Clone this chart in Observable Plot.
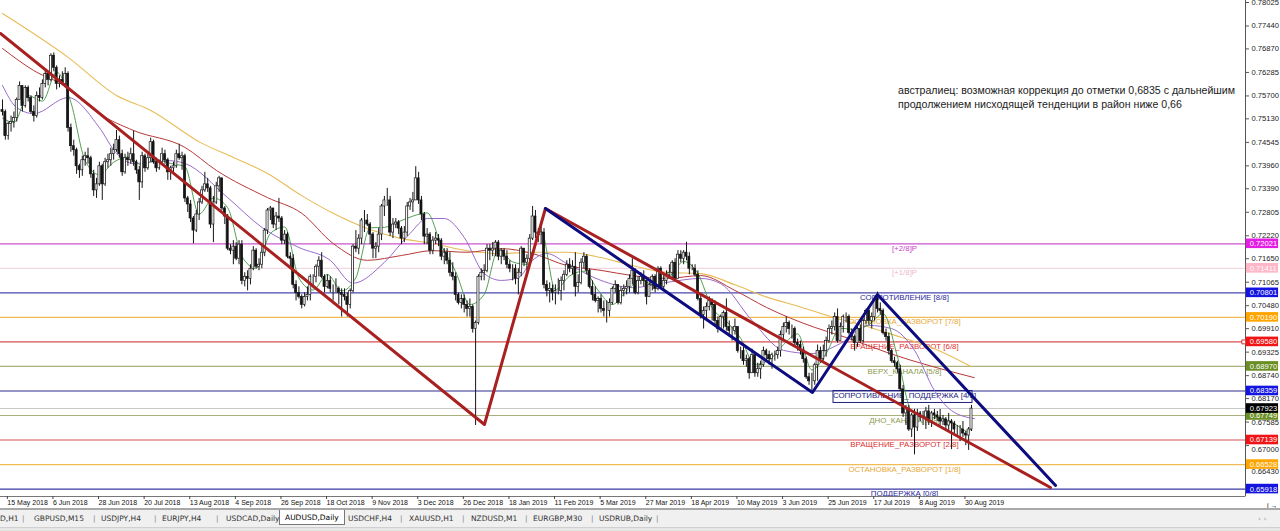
<!DOCTYPE html>
<html><head><meta charset="utf-8">
<script src="https://cdn.jsdelivr.net/npm/d3@7"></script>
<script src="https://cdn.jsdelivr.net/npm/@observablehq/plot@0.6"></script>
<style>
html,body{margin:0;padding:0;background:#fff;width:1280px;height:531px;overflow:hidden}
#wrap{position:relative;width:1280px;height:510px}
#note{position:absolute;left:898px;top:83px;font:10.6px "Liberation Sans",Arial,sans-serif;line-height:14px;color:#222;white-space:nowrap}
#sep{position:absolute;left:0;top:508px;width:1280px;height:2px;background:#a8a8a8}
#tabs{position:absolute;left:0;top:510px;width:1280px;height:17px;background:#f0f0f0;font:7.5px "DejaVu Sans",sans-serif;color:#333}
#tabs span{position:absolute;top:4px;white-space:nowrap}
#tabs .act{top:0;height:15px;padding:3px 5px 0 5px;box-sizing:border-box;background:#fff;border-left:1px solid #777;border-right:1px solid #777;border-bottom:1px solid #777;color:#000}
#foot{position:absolute;left:0;top:527px;width:1280px;height:4px;background:#e6e6e6;border-top:1px solid #d0d0d0}
</style></head><body>
<div id="wrap"><div id="chart"></div>
<div id="note">австралиец: возможная коррекция до отметки 0,6835 с дальнейшим<br>продолжением нисходящей тенденции в район ниже 0,66</div>
<div id="sep"></div>
<div id="tabs"></div>
</div>
<div id="foot"></div>
<script>
// ---------- DATA ----------
const tickIdx = [1,17,33,49,65,81,97,113,129,145,161,177,193,209,225,241,257,273,289,305,321,337];
const tickLabels = ["15 May 2018","6 Jun 2018","28 Jun 2018","20 Jul 2018","13 Aug 2018","4 Sep 2018","26 Sep 2018","18 Oct 2018","9 Nov 2018","3 Dec 2018","26 Dec 2018","18 Jan 2019","11 Feb 2019","5 Mar 2019","27 Mar 2019","18 Apr 2019","10 May 2019","3 Jun 2019","25 Jun 2019","17 Jul 2019","8 Aug 2019","30 Aug 2019"];
const yTicks = [0.78025,0.77440,0.76870,0.76285,0.75700,0.75130,0.74545,0.73960,0.73390,0.72805,0.72220,0.71650,0.71065,0.70480,0.69910,0.69325,0.68740,0.68170,0.67585,0.67000,0.66430];
const yTicksUnderBox = [0.67000,0.66430];

const firstOpen = 7535;
const closes = [
7530,7470,7500,7505,7515, 7560,7595,7545,7590,7565, 7530,7520,7570,7565,7600, 7625,7610,7670,7640,7600,
7610,7600,7625,7490,7445, 7435,7395,7385,7410,7420, 7415,7375,7335,7350,7395, 7350,7405,7410,7425,7435,
7460,7425,7380,7415,7410, 7425,7405,7385,7355,7420, 7390,7415,7455,7405,7390, 7405,7425,7410,7380,7390,
7395,7425,7415,7420,7315, 7300,7265,7235,7275,7305, 7335,7350,7340,7250,7305, 7345,7365,7290,7270,7190,
7185,7195,7165,7200,7110, 7120,7115,7140,7185,7145, 7150,7180,7235,7285,7290, 7250,7270,7265,7210,7225,
7170,7165,7100,7080,7070, 7050,7070,7075,7120,7120, 7145,7160,7120,7095,7110, 7090,7090,7090,7080,7075,
7070,7050,7085,7195,7190, 7215,7260,7260,7250,7225, 7190,7195,7225,7295,7310, 7310,7230,7250,7255,7240,
7215,7230,7295,7305,7310, 7365,7310,7275,7220,7225, 7185,7210,7215,7210,7170, 7180,7160,7130,7120,7075,
7055,7065,7050,7040,7045, 6990,7005,7120,7130,7135, 7190,7185,7190,7205,7170, 7185,7170,7150,7140,7140,
7115,7130,7190,7155,7165, 7215,7270,7230,7225,7230, 7100,7085,7090,7080,7085, 7085,7110,7125,7150,7140,
7145,7095,7105,7155,7170, 7135,7095,7075,7060,7065, 7040,7035,7035,7055,7090, 7100,7055,7085,7090,7095,
7115,7135,7080,7110,7120, 7110,7070,7100,7120,7090, 7140,7095,7110,7125,7130, 7155,7115,7175,7165,7180,
7170,7140,7140,7125,7065, 7025,7035,7045,7060,7050, 7010,6990,7020,7030,6995, 6985,6985,6995,6935,6935,
6910,6915,6880,6925,6880, 6890,6900,6935,6925,6915, 6925,6925,6935,6975,6995, 7005,6990,6990,6955,6950,
6935,6915,6870,6860,6860, 6900,6935,6915,6935,6960, 6990,6995,7020,6960,6995, 7020,7020,6980,6970,6955,
6990,6960,7010,7035,7010, 7020,7065,7040,7035,6980, 6970,6935,6910,6905,6890, 6840,6780,6790,6740,6775,
6745,6780,6770,6770,6785, 6760,6780,6775,6770,6760, 6765,6750,6760,6755,6740, 6740,6740,6730,6725,6740,
6792];
const highs = [
7560,7535,7505,7520,7530, 7565,7605,7595,7595,7595, 7570,7545,7580,7590,7610, 7635,7630,7675,7677,7645,
7620,7630,7640,7630,7500, 7460,7440,7400,7420,7430, 7440,7420,7385,7365,7405, 7400,7415,7425,7440,7450,
7484,7470,7435,7425,7430, 7440,7483,7410,7395,7430, 7425,7425,7465,7460,7415, 7410,7440,7435,7415,7395,
7405,7435,7450,7430,7425, 7320,7310,7270,7285,7315, 7345,7380,7365,7345,7320, 7355,7370,7365,7295,7275,
7200,7210,7205,7210,7210, 7130,7135,7150,7195,7190, 7165,7195,7240,7290,7295, 7280,7280,7315,7270,7235,
7230,7180,7175,7110,7095, 7075,7080,7095,7125,7125, 7150,7170,7180,7125,7125, 7120,7100,7115,7095,7090,
7090,7080,7090,7200,7235, 7225,7265,7285,7275,7255, 7230,7205,7240,7300,7320, 7340,7320,7265,7265,7260,
7245,7245,7305,7315,7330, 7394,7380,7320,7280,7240, 7230,7220,7230,7225,7215, 7190,7190,7180,7155,7130,
7080,7075,7075,7060,7065, 7050,7010,7125,7140,7150, 7200,7200,7205,7210,7210, 7190,7190,7185,7160,7150,
7150,7140,7195,7190,7175, 7225,7295,7285,7240,7245, 7240,7110,7105,7100,7100, 7115,7120,7135,7160,7165,
7160,7180,7125,7165,7180, 7175,7140,7110,7095,7070, 7075,7060,7060,7065,7095, 7110,7100,7095,7100,7110,
7125,7165,7140,7120,7130, 7135,7110,7105,7125,7125, 7145,7145,7125,7135,7150, 7160,7165,7185,7185,7185,
7206,7180,7150,7150,7135, 7075,7045,7055,7070,7065, 7060,7020,7025,7035,7065, 7010,6995,7015,6995,6945,
6945,6925,6920,6940,6925, 6905,6910,6945,6940,6935, 6930,6935,6945,6985,7005, 7020,7010,7000,6995,6965,
6960,6945,6920,6880,6880, 6905,6950,6945,6950,6970, 7000,7010,7030,7040,7005, 7025,7030,7025,6990,6975,
7000,7000,7015,7040,7045, 7030,7070,7082,7055,7040, 6990,6980,6940,6920,6910, 6900,6850,6800,6800,6780,
6790,6790,6785,6785,6795, 6800,6785,6790,6785,6790, 6775,6770,6780,6765,6760, 6750,6750,6760,6735,6745,
6800];
const lows = [
7520,7460,7460,7480,7490, 7505,7560,7530,7540,7555, 7525,7505,7515,7555,7560, 7590,7595,7605,7630,7585,
7590,7595,7590,7480,7430, 7420,7375,7365,7370,7395, 7400,7365,7320,7315,7345, 7310,7345,7390,7395,7410,
7430,7415,7370,7375,7395, 7400,7395,7375,7310,7340, 7380,7385,7405,7400,7380, 7385,7400,7400,7360,7360,
7375,7390,7410,7385,7305, 7280,7255,7202,7230,7260, 7300,7330,7330,7240,7205, 7300,7330,7285,7250,7185,
7175,7150,7160,7150,7100, 7095,7085,7100,7135,7140, 7135,7140,7170,7225,7260, 7240,7235,7255,7200,7200,
7165,7140,7090,7060,7065, 7040,7045,7060,7060,7090, 7105,7120,7115,7080,7090, 7080,7060,7080,7050,7020,
7060,7020,7040,7080,7180, 7175,7200,7230,7245,7200, 7165,7165,7180,7210,7270, 7295,7220,7215,7240,7225,
7200,7205,7220,7285,7280, 7335,7300,7260,7200,7200, 7175,7175,7200,7195,7160, 7150,7150,7120,7110,7060,
7050,7040,7030,7020,7020, 6980,6750,7000,7110,7110, 7130,7160,7170,7170,7160, 7150,7160,7140,7130,7110,
7100,7075,7120,7145,7135, 7150,7210,7215,7205,7200, 7090,7070,7055,7060,7050, 7075,7060,7085,7120,7130,
7125,7070,7080,7100,7140, 7125,7090,7060,7055,7030, 7030,7020,7005,7020,7050, 7080,7050,7050,7070,7075,
7080,7100,7075,7075,7100, 7095,7050,7070,7085,7080, 7085,7090,7085,7100,7115, 7115,7110,7115,7155,7150,
7160,7125,7135,7120,7060, 7015,6990,7010,7035,7010, 7000,6980,6985,6990,6985, 6970,6960,6975,6930,6915,
6900,6895,6865,6890,6870, 6870,6865,6895,6910,6900, 6890,6910,6915,6920,6960, 6980,6975,6965,6945,6935,
6925,6905,6865,6850,6832, 6850,6860,6905,6910,6920, 6955,6975,6985,6955,6960, 6980,7005,6975,6960,6935,
6945,6955,6955,7000,7000, 6990,7010,7030,7025,6975, 6960,6925,6905,6895,6880, 6835,6770,6750,6735,6720,
6677,6735,6760,6750,6740, 6750,6745,6765,6760,6750, 6750,6740,6735,6690,6730, 6725,6710,6720,6700,6688,
6735];

// moving averages (at sample bars)
const maSlowIdx = [0,23,40,52,70,81,93,105,116,128,140,151,163,175,186,198,210,221,233,245,257,268,280,292,304,315,326,340];
const maSlow    = [7775,7666,7571,7534,7452,7417,7377,7322,7278,7240,7215,7203,7185,7178,7181,7181,7168,7148,7131,7128,7100,7070,7045,7018,6995,6970,6944,6896];
const maMidIdx  = [0,11,23,34,46,64,75,93,105,116,128,140,151,163,175,186,198,210,221,233,245,257,268,285,296,311,341];
const maMid     = [7688,7633,7591,7526,7484,7442,7385,7317,7278,7203,7161,7173,7185,7181,7190,7178,7148,7136,7123,7116,7123,7086,7044,6994,6969,6930,6869];
const maFastIdx = [0,5,11,23,34,40,46,58,64,79,91,104,115,123,134,143,149,155,162,169,175,181,186,191,198,210,221,233,245,252,263,274,284,294,304,312,320,327,333,341];
const maFast    = [7596,7541,7526,7566,7491,7427,7402,7409,7402,7317,7243,7193,7161,7104,7156,7228,7265,7265,7218,7128,7111,7118,7161,7178,7153,7111,7093,7106,7116,7103,7011,6937,6929,6954,6999,6991,6937,6837,6787,6767];
const maShortIdx = [0,4,9,14,19,24,29,34,39,44,49,54,59,64,69,74,79,84,89,94,99,104,109,114,119,124,129,134,139,144,149,154,159,164,169,174,179,184,189,194,199,204,209,214,219,224,229,234,239,244,249,254,259,264,269,274,279,284,289,294,299,304,309,314,319,324,329,334,339,340];
const maShort    = [7515,7504,7571,7557,7629,7554,7409,7374,7405,7418,7398,7411,7402,7394,7276,7316,7292,7171,7141,7228,7244,7117,7087,7126,7085,7118,7242,7243,7257,7271,7279,7198,7133,7051,7076,7188,7157,7151,7234,7088,7122,7134,7086,7051,7085,7112,7098,7120,7158,7128,7043,7009,6967,6902,6913,6951,6978,6888,6929,6992,6989,7001,7028,6922,6785,6770,6769,6754,6735,6745];

// drawn trend zigzags (vertices: bar index, price)
const zigRedIdx   = [-0.7,169.1,190.5,367.7];
const zigRedPrice = [0.77254,0.67525,0.72899,0.65957];
const zigBlueIdx   = [190.5,284.2,307.0,369.5];
const zigBluePrice = [0.72899,0.68321,0.70759,0.66007];

// Murrey levels
const levelPrices = [0.72021,0.71411,0.70801,0.70190,0.69580,0.68970,0.68359,0.67749,0.67139,0.66528,0.65918];
const levelNames = ["[+2/8]P","[+1/8]P","СОПРОТИВЛЕНИЕ [8/8]","ОСТАНОВКА_РАЗВОРОТ [7/8]","ВРАЩЕНИЕ_РАЗВОРОТ [6/8]","ВЕРХ_КАНАЛА [5/8]","СОПРОТИВЛЕНИЕ_ПОДДЕРЖКА [4/8]","ДНО_КАНАЛА [3/8]","ВРАЩЕНИЕ_РАЗВОРОТ [2/8]","ОСТАНОВКА_РАЗВОРОТ [1/8]","ПОДДЕРЖКА [0/8]"];
const currentPrice = 0.67923;

const tabNames = ["D,H1","GBPUSD,M15","USDJPY,H4","EURJPY,H4","USDCAD,Daily","AUDUSD,Daily","USDCHF,H4","XAUUSD,H1","NZDUSD,M1","EURGBP,M30","USDRUB,Daily"];

// ---------- STYLES ----------
const lineColors = ["#cc55cc","#f2d8e0","#4848b0","#f2bc55","#d85050","#a9b07c","#2c2c90","#a9b07c","#d85050","#f2bc55","#3a3aa4"];
const textColors = ["#cc44cc","#f0b8c8","#2a2a9a","#e8a838","#e03030","#8c9a50","#202080","#8c9a50","#d83030","#e8a838","#2a2a9a"];
const boxColors  = ["#e41ce4","#ffb6c6","#1414e0","#ffa500","#f01414","#6b8e23","#1414e0","#6b8e23","#f01414","#ffa500","#1414e0"];

// ---------- BUILD ----------
const bars = closes.map((c, i) => {
  const o = i ? closes[i-1] : firstOpen;
  return {i, o: o/1e4, c: c/1e4, h: Math.max(highs[i], o, c)/1e4, l: Math.min(lows[i], o, c)/1e4};
});
const series = (idx, vals) => idx.map((i, k) => ({i, p: vals[k]/1e4}));
const zig = (idx, vals) => idx.map((i, k) => ({i, p: vals[k]}));
const levels = levelPrices.map((p, k) => ({p, name: levelNames[k], lc: lineColors[k], tc: textColors[k], bc: boxColors[k]}));
const boxes = levels.concat([{p: currentPrice, bc: "#000"}]);
const tickMap = new Map(tickIdx.map((d, k) => [d, tickLabels[k]]));
const fmt5 = d => d.toFixed(5);

const X0 = -0.702, X1 = (1245 - 2) / 2.85;
const PXY = 1/4019;
const Y1 = 0.78025 + 2*PXY, Y0 = 0.78025 - 494*PXY;
const LABEL_X = (904 - 2) / 2.85;
const font = "'Liberation Sans', Arial, sans-serif";

const chart = Plot.plot({
  width: 1280, height: 510,
  marginLeft: 0, marginRight: 35, marginTop: 0, marginBottom: 14,
  x: {domain: [X0, X1]},
  y: {domain: [Y0, Y1]},
  style: {fontFamily: font, background: "#fff", overflow: "visible", color: "#000"},
  marks: [
    Plot.ruleY(levels, {y: "p", stroke: "lc", strokeWidth: 1.2}),
    Plot.ruleY([currentPrice], {stroke: "#c8c8c8", strokeWidth: 1}),
    Plot.text(levels, {x: LABEL_X, y: "p", text: "name", fill: "tc", fontSize: 7.9, lineAnchor: "top", dy: 1.5, clip: true}),
    Plot.rect([levels[6]], {x1: (833-2)/2.85, x2: (972-2)/2.85, y1: d => d.p, y2: d => d.p - 12*PXY, fill: "none", stroke: "#202080", strokeWidth: 1}),
    Plot.line(series(maSlowIdx, maSlow), {x: "i", y: "p", stroke: "#e8bc58", strokeWidth: 1.1, curve: "monotone-x"}),
    Plot.line(series(maMidIdx, maMid), {x: "i", y: "p", stroke: "#b83838", strokeWidth: 1, curve: "monotone-x"}),
    Plot.line(series(maFastIdx, maFast), {x: "i", y: "p", stroke: "#9a6acc", strokeWidth: 1, curve: "monotone-x"}),
    Plot.line(series(maShortIdx, maShort), {x: "i", y: "p", stroke: "#3c963c", strokeWidth: 0.9, curve: "monotone-x"}),
    Plot.ruleX(bars, {x: "i", y1: "l", y2: "h", stroke: "#151515", strokeWidth: 1}),
    Plot.rect(bars, {x1: d => d.i - 0.36, x2: d => d.i + 0.36, y1: d => Math.min(d.o, d.c), y2: d => Math.max(d.o, d.c), fill: d => d.c >= d.o ? "#fff" : "#151515", stroke: "#151515", strokeWidth: 0.7}),
    Plot.line(zig(zigRedIdx, zigRedPrice), {x: "i", y: "p", stroke: "#a82020", strokeWidth: 3}),
    Plot.line(zig(zigBlueIdx, zigBluePrice), {x: "i", y: "p", stroke: "#0c0c80", strokeWidth: 3}),
    Plot.ruleY([Y0], {stroke: "#777", strokeWidth: 1}),
    Plot.ruleX([X1], {y1: Y0 - 0.0001, y2: Y1, stroke: "#555", strokeWidth: 1}),
    Plot.axisY({ticks: yTicks, anchor: "right", tickSize: 3, tickPadding: 3,
      tickFormat: d => yTicksUnderBox.includes(d) ? "" : fmt5(d), fontSize: 7.6, stroke: "#555", fill: "#222"}),
    // tick labels that sit just under a level box: shown peeking out below it
    Plot.text(yTicksUnderBox, {x: X1, y: d => d, text: fmt5, dx: 6, dy: 3.5, textAnchor: "start", fontSize: 7.6, fill: "#222"}),
    Plot.axisX({ticks: tickIdx, anchor: "bottom", tickSize: 3, tickPadding: 1, tickFormat: d => tickMap.get(d), textAnchor: "start", dx: 2, fontSize: 7, stroke: "#444", fill: "#111"}),
    Plot.dot([levelPrices[4]], {x: X1 - 0.6, y: d => d, symbol: "square", r: 2.2, stroke: "#d03030", fill: "#fff", strokeWidth: 1}),
    Plot.rect(boxes, {x1: X1 + 0.3, x2: X1 + 11.6, y1: d => d.p - 4.8*PXY, y2: d => d.p + 4.8*PXY, fill: "bc"}),
    Plot.text(boxes, {x: X1 + 1.5, y: "p", text: d => fmt5(d.p), fill: "#fff", textAnchor: "start", fontSize: 7.6})
  ]
});
document.getElementById("chart").appendChild(chart);

// tab bar
const tabs = document.getElementById("tabs");
const tabX = [0,34,101,162,226,279,348,409,471,533,599];
const sepX = [22,93,154,216,400,462,525,591,656];
tabNames.forEach((t, k) => {
  const s = document.createElement("span");
  s.textContent = t;
  s.style.left = tabX[k] + "px";
  if (t === "AUDUSD,Daily") s.className = "act";
  tabs.appendChild(s);
});
sepX.forEach(x => {
  const s = document.createElement("span");
  s.textContent = "|"; s.style.left = x + "px"; s.style.color = "#888";
  tabs.appendChild(s);
});
const arr = document.createElement("span");
arr.textContent = "‹  ›"; arr.style.left = "1258px"; arr.style.color = "#999";
tabs.appendChild(arr);
</script>
</body></html>
